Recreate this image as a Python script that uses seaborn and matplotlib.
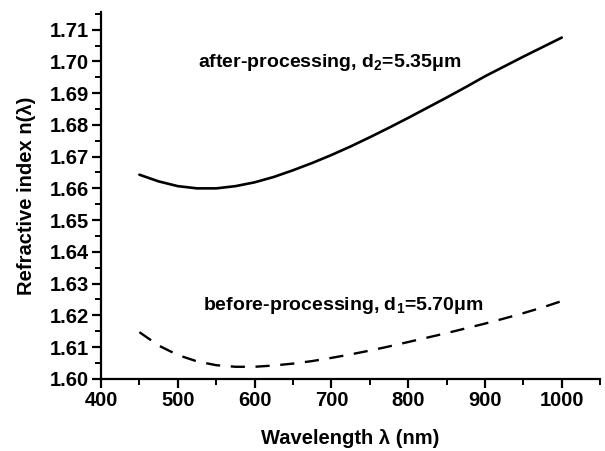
import numpy as np
import pandas as pd
import matplotlib
matplotlib.use('Agg')
import matplotlib.pyplot as plt
from matplotlib.ticker import MultipleLocator
import seaborn as sns

# wavelength grid (nm) and refractive index
wavelength = [450, 475, 500, 525, 550, 575, 600, 625, 650, 675, 700, 725,
              750, 775, 800, 825, 850, 875, 900, 925, 950, 975, 1000]
n_after = [1.6643, 1.6622, 1.6607, 1.6600, 1.6600, 1.6607, 1.6619, 1.6636,
           1.6657, 1.6680, 1.6705, 1.6732, 1.6761, 1.6791, 1.6822, 1.6854,
           1.6886, 1.6919, 1.6953, 1.6984, 1.7015, 1.7045, 1.7075]
n_before = [1.6147, 1.6105, 1.6075, 1.6055, 1.6043, 1.6038, 1.6038, 1.6042,
            1.6048, 1.6056, 1.6066, 1.6077, 1.6089, 1.6102, 1.6116, 1.6130,
            1.6144, 1.6159, 1.6174, 1.6190, 1.6207, 1.6225, 1.6245]

label_after = 'after-processing, d$_{2}$=5.35μm'
label_before = 'before-processing, d$_{1}$=5.70μm'

sns.set_style('ticks')
plt.rcParams.update({
    'font.family': ['Liberation Sans', 'DejaVu Sans'],
    'font.weight': 'bold',
    'mathtext.default': 'bf',
    'mathtext.fontset': 'custom',
    'mathtext.bf': 'Liberation Sans:bold',
    'text.color': 'black',
    'axes.labelcolor': 'black',
    'axes.edgecolor': 'black',
    'xtick.color': 'black',
    'ytick.color': 'black',
    'axes.linewidth': 1.6,
    'xtick.major.width': 1.6,
    'ytick.major.width': 1.6,
    'xtick.minor.width': 1.4,
    'ytick.minor.width': 1.4,
    'xtick.major.size': 6.5,
    'ytick.major.size': 6.5,
    'xtick.minor.size': 4,
    'ytick.minor.size': 4,
})

df = pd.DataFrame({'wavelength': wavelength, 'after': n_after, 'before': n_before})

fig = plt.figure(figsize=(6.05, 4.51), dpi=100)
ax = fig.add_axes([0.167, 0.160, 0.825, 0.813])

sns.lineplot(data=df, x='wavelength', y='after', ax=ax, color='black', lw=1.9)
sns.lineplot(data=df, x='wavelength', y='before', ax=ax, color='black', lw=1.7,
             dashes=False, linestyle=(0, (6, 4.5)))

ax.text(698, 1.6995, label_after, ha='center', va='center', fontsize=14, fontweight='bold')
ax.text(715, 1.6232, label_before, ha='center', va='center', fontsize=14, fontweight='bold')

ax.set_xlim(400, 1050)
ax.set_ylim(1.60, 1.7155)
ax.xaxis.set_minor_locator(MultipleLocator(50))
ax.yaxis.set_minor_locator(MultipleLocator(0.005))
ax.set_xticks(np.arange(400, 1001, 100))
ax.set_yticks(np.arange(1.60, 1.7101, 0.01))
ax.yaxis.set_major_formatter(plt.FormatStrFormatter('%.2f'))
ax.tick_params(labelsize=14.5, pad=2)
for lab in ax.get_xticklabels() + ax.get_yticklabels():
    lab.set_fontweight('bold')

ax.set_xlabel('Wavelength λ (nm)', fontsize=14.5, fontweight='bold', labelpad=14)
ax.set_ylabel('Refractive index n(λ)', fontsize=14.5, fontweight='bold', labelpad=10)
sns.despine(ax=ax)

fig.savefig('out.png', dpi=100)
